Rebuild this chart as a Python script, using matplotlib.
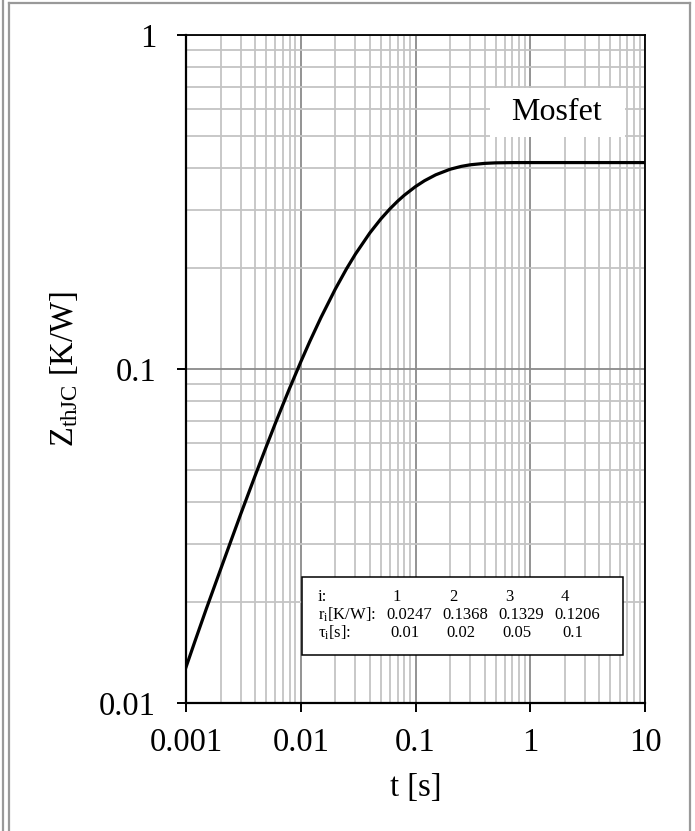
"""
Transient thermal impedance Z_thJC of the Mosfet (junction to case), log-log plot.
"""

import matplotlib
matplotlib.use('Agg')
import matplotlib.pyplot as plt
from matplotlib.lines import Line2D
from matplotlib.patches import Rectangle
from matplotlib.ticker import LogLocator, FixedLocator, NullFormatter

# ========================= Data ==================
t_s = [0.001, 0.0012, 0.0015, 0.002, 0.0025, 0.003, 0.004, 0.005, 0.006,
       0.007, 0.008, 0.01, 0.012, 0.015, 0.02, 0.025, 0.03, 0.04, 0.05,
       0.06, 0.07, 0.08, 0.1, 0.12, 0.15, 0.2, 0.25, 0.3, 0.4, 0.5, 0.7,
       1, 2, 5, 10]
zth_kw = [0.0128, 0.01535, 0.0191, 0.0251, 0.0310, 0.0368, 0.0479, 0.0585,
          0.0687, 0.0783, 0.0876, 0.105, 0.121, 0.1426, 0.1735, 0.1993,
          0.221, 0.2555, 0.2816, 0.3019, 0.3182, 0.3315, 0.3517, 0.3663,
          0.3814, 0.3963, 0.4042, 0.4087, 0.4127, 0.4142, 0.4149,
          0.415, 0.415, 0.415, 0.415]

X_TICKS = [0.001, 0.01, 0.1, 1, 10]
X_TICKLABELS = ['0.001', '0.01', '0.1', '1', '10']
Y_TICKS = [0.01, 0.1, 1]
Y_TICKLABELS = ['0.01', '0.1', '1']

# Foster network parameters shown in the inset table
idx = ['1', '2', '3', '4']
r_i = ['0.0247', '0.1368', '0.1329', '0.1206']
tau_i = ['0.01', '0.02', '0.05', '0.1']

# ========================= Styling ===================================
plt.rcParams.update({
    'font.family': ['Liberation Serif', 'DejaVu Serif'],
    'mathtext.fontset': 'custom',
    'mathtext.rm': 'Liberation Serif',
    'mathtext.it': 'Liberation Serif:italic',
    'font.size': 23.5,
})

W, H = 695, 831
fig = plt.figure(figsize=(W / 100, H / 100), dpi=100)


def fx(px):
    return px / W


def fy(py):
    return 1 - py / H


ax = fig.add_axes([fx(186), fy(703), fx(645) - fx(186), fy(35) - fy(703)])

ax.plot(t_s, zth_kw, color='black', lw=2.3, zorder=5,
        solid_joinstyle='round')

ax.set_xscale('log')
ax.set_yscale('log')
ax.set_xlim(0.001, 10)
ax.set_ylim(0.01, 1)

ax.xaxis.set_major_locator(FixedLocator(X_TICKS))
ax.set_xticklabels(X_TICKLABELS)
ax.yaxis.set_major_locator(FixedLocator(Y_TICKS))
ax.set_yticklabels(Y_TICKLABELS)
ax.xaxis.set_minor_locator(LogLocator(base=10, subs=range(2, 10)))
ax.yaxis.set_minor_locator(LogLocator(base=10, subs=range(2, 10)))
ax.xaxis.set_minor_formatter(NullFormatter())
ax.yaxis.set_minor_formatter(NullFormatter())

ax.grid(True, which='minor', color='#c4c4c4', lw=1.3, zorder=0)
ax.grid(True, which='major', color='#8a8a8a', lw=1.3, zorder=0)
ax.set_axisbelow(True)

ax.tick_params(which='major', direction='out', length=6.5, width=1.4,
               color='black')
ax.tick_params(axis='x', which='major', pad=11)
ax.tick_params(axis='y', which='major', pad=15)
ax.tick_params(which='minor', length=0)
for side in ['left', 'bottom']:
    ax.spines[side].set_linewidth(1.6)
for side in ['top', 'right']:
    ax.spines[side].set_linewidth(1.3)

ax.set_xlabel('t [s]')
ax.xaxis.set_label_coords(0.5, -0.104)
ax.set_ylabel(r'Z$_{\mathrm{thJC}}$ [K/W]')
ax.yaxis.set_label_coords((80 - 186) / 459, 0.5)

# "Mosfet" label on a white box
fig.patches.append(Rectangle((fx(490), fy(137)), fx(625) - fx(490),
                             fy(88) - fy(137), transform=fig.transFigure,
                             facecolor='white', edgecolor='none', zorder=3))
fig.text(fx(557), fy(113), 'Mosfet', ha='center', va='center',
         fontsize=23, zorder=4)

# Inset table with the thermal network parameters
fig.patches.append(Rectangle((fx(302), fy(655)), fx(623) - fx(302),
                             fy(577) - fy(655), transform=fig.transFigure,
                             facecolor='white', edgecolor='black', lw=1.1,
                             zorder=3))
col_x = [409, 465, 521, 577]
rows = [
    ('i:', idx, 597, -12),
    (r'r$_{\mathrm{i}}$[K/W]:', r_i, 615, 0),
    (r'τ$_{\mathrm{i}}$[s]:', tau_i, 633, -4),
]
for head, vals, py, off in rows:
    fig.text(fx(318), fy(py), head, ha='left', va='center', fontsize=12,
             zorder=4)
    for cx, v in zip(col_x, vals):
        fig.text(fx(cx + off), fy(py), v, ha='center', va='center',
                 fontsize=12, zorder=4)

# Outer page frame (double line on the left)
frame = dict(color='#999999', lw=1.6, transform=fig.transFigure)
fig.lines.append(Line2D([fx(2.5), fx(2.5)], [0, 1], **frame))
fig.lines.append(Line2D([fx(9), fx(9)], [0, fy(3)], **frame))
fig.lines.append(Line2D([fx(9), fx(690)], [fy(3), fy(3)], **frame))
fig.lines.append(Line2D([fx(690), fx(690)], [0, fy(3)], **frame))

fig.savefig('out.png', dpi=100)
